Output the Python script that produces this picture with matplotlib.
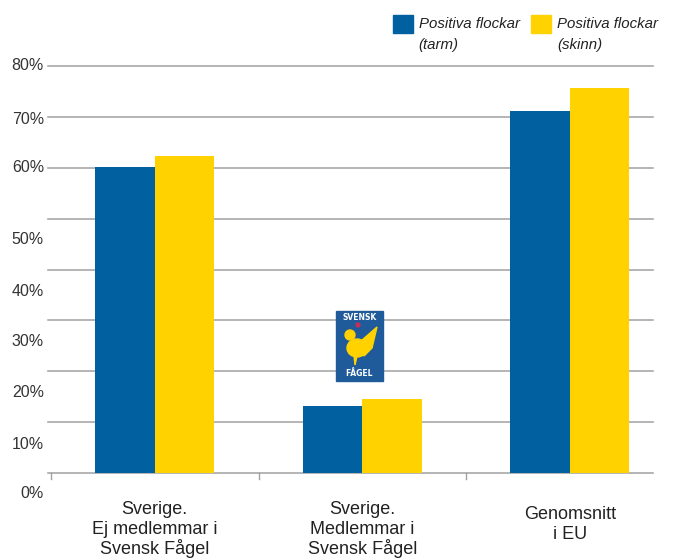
import matplotlib
matplotlib.use("Agg")
import matplotlib.pyplot as plt
import matplotlib.transforms as mtransforms
from matplotlib.patches import Rectangle, Ellipse, Polygon
import numpy as np

plt.rcParams["font.family"] = ["Liberation Sans", "DejaVu Sans"]

categories = ["Sverige.\nEj medlemmar i\nSvensk Fågel",
              "Sverige.\nMedlemmar i\nSvensk Fågel",
              "Genomsnitt\ni EU"]
tarm = [60.2, 13.2, 71.1]
skinn = [62.3, 14.6, 75.7]
series_labels = ["Positiva flockar\n(tarm)", "Positiva flockar\n(skinn)"]
yticks = [0, 10, 20, 30, 40, 50, 60, 70, 80]
ytick_labels = ["0%", "10%", "20%", "30%", "40%", "50%", "60%", "70%", "80%"]
# the source image draws most labels a bit below their gridline (pixels)
label_shift_px = [20, 22, 21, 21, 22, 21, 0, 3, 0]

BLUE = "#0060a0"
YELLOW = "#ffd200"
GRID = "#a0a0a0"
W, H = 673, 558


def fx(px):
    return px / W


def fy(py):
    return (H - py) / H


fig = plt.figure(figsize=(W / 100, H / 100), dpi=100)
fig.patch.set_facecolor("white")
ax = fig.add_axes([fx(51), fy(473.3), 622.5 / W, (473.3 - 65.7) / H])
ax.set_xlim(-0.5, 2.5)
ax.set_ylim(0, 80)

x = np.arange(len(categories))
w = 0.286
ax.bar(x - w / 2, tarm, w, color=BLUE, zorder=3)
ax.bar(x + w / 2, skinn, w, color=YELLOW, zorder=3)

for s in ax.spines.values():
    s.set_visible(False)
ax.set_xticks([])
ax.set_yticks([])

gx_end = (653 - 51) / 622.5
gx_start = -3 / 622.5
for v in yticks:
    ax.axhline(v, gx_start, gx_end, color=GRID, lw=1.1, zorder=1, clip_on=False)

# small category separator ticks below baseline
for b in [-0.5, 0.5, 1.5]:
    ax.plot([b, b], [0, -1.1], color=GRID, lw=1, clip_on=False)

trans = mtransforms.blended_transform_factory(fig.transFigure, ax.transData)
for v, lab, sh in zip(yticks, ytick_labels, label_shift_px):
    off = mtransforms.ScaledTranslation(0, -sh / 100, fig.dpi_scale_trans)
    fig.text(fx(44), v, lab, transform=trans + off, ha="right", va="center",
             fontsize=11.5, color="#333333")

# category labels, one text per line (first baseline in px, 20 px pitch)
xtrans = mtransforms.blended_transform_factory(ax.transData, fig.transFigure)
for xi, lab, b0 in zip(x, categories, [513.5, 514, 519]):
    for k, line in enumerate(lab.split("\n")):
        ax.text(xi, fy(b0 + k * 20), line, transform=xtrans, ha="center",
                va="baseline", fontsize=13, color="#222222", clip_on=False)

# legend
for x0, col, lab in zip([392.7, 531], [BLUE, YELLOW], series_labels):
    fig.patches.append(Rectangle((fx(x0), fy(33)), 20 / W, 17.5 / H,
                                 transform=fig.transFigure, color=col))
    for k, line in enumerate(lab.split("\n")):
        fig.text(fx(x0 + 26), fy(27.5 + k * 21.5), line, ha="left", va="baseline",
                 fontsize=10.8, style="italic", color="#222222")

# Svensk Fågel logo
lx0, lx1, ly0, ly1 = 336, 382.7, 311, 380.7
fig.patches.append(Rectangle((fx(lx0), fy(ly1)), fx(lx1) - fx(lx0), fy(ly0) - fy(ly1),
                             transform=fig.transFigure, color="#1f5b9a", zorder=5))
fig.text(fx(359.3), fy(318), "SVENSK", ha="center", va="center", fontsize=5.5,
         weight="bold", color="white", zorder=6, family="DejaVu Sans")
fig.text(fx(359.3), fy(373.5), "FÅGEL", ha="center", va="center", fontsize=5.5,
         weight="bold", color="white", zorder=6, family="DejaVu Sans")
fig.patches.append(Ellipse((fx(357), fy(348)), fx(20), fy(0) - fy(18),
                           transform=fig.transFigure, color=YELLOW, zorder=6))
fig.patches.append(Ellipse((fx(350), fy(335)), fx(10), fy(0) - fy(10),
                           transform=fig.transFigure, color=YELLOW, zorder=6))
fig.patches.append(Polygon([(fx(361), fy(341)), (fx(377), fy(327)), (fx(372), fy(348)),
                            (fx(364), fy(356))], closed=True,
                           transform=fig.transFigure, color=YELLOW, zorder=6))
fig.patches.append(Polygon([(fx(354), fy(356)), (fx(355), fy(365)), (fx(357), fy(356))],
                           closed=True, transform=fig.transFigure, color=YELLOW, zorder=6))
fig.patches.append(Ellipse((fx(358), fy(325)), fx(4), fy(0) - fy(4),
                           transform=fig.transFigure, color="#c0305a", zorder=6))

fig.savefig("out.png", dpi=100, facecolor="white")
